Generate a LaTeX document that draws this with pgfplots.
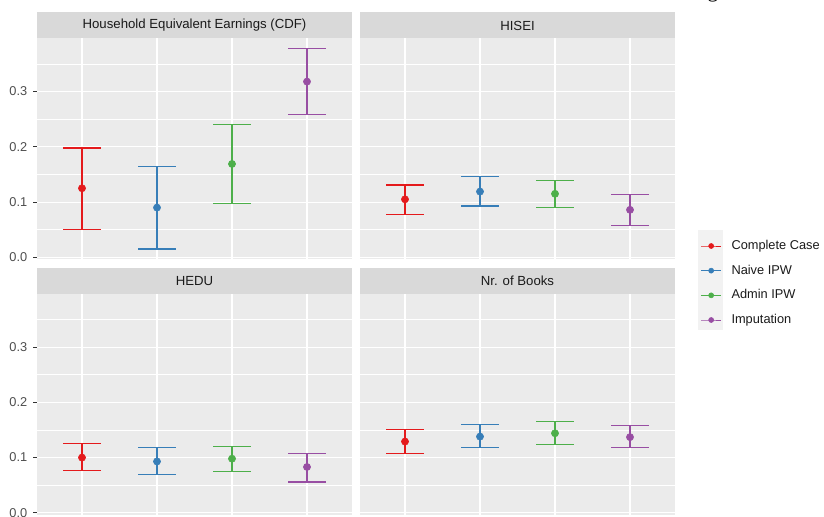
\documentclass[border=0pt]{standalone}
\usepackage{pgfplots}
\pgfplotsset{compat=1.18}
\usepackage{pgfplotstable}
\usepackage{fontspec}
\setmainfont{Liberation Sans}
\newfontfamily\captionserif{Liberation Serif}

% ggplot2 grey theme and Set1 palette
\definecolor{panelbg}{HTML}{EBEBEB}
\definecolor{stripbg}{HTML}{D9D9D9}
\definecolor{keybg}{HTML}{F2F2F2}
\definecolor{striptext}{HTML}{1A1A1A}
\definecolor{labelcol}{HTML}{4D4D4D}
\definecolor{tickcol}{HTML}{333333}
\definecolor{m1}{HTML}{E41A1C}
\definecolor{m2}{HTML}{377EB8}
\definecolor{m3}{HTML}{4DAF4A}
\definecolor{m4}{HTML}{984EA3}

% estimate and 95% interval per method (1 = Complete Case, 2 = Naive IPW,
% 3 = Admin IPW, 4 = Imputation)
\pgfplotstableread{
x y lo hi
1 0.125 0.051 0.198
2 0.090 0.015 0.164
3 0.169 0.098 0.240
4 0.318 0.258 0.378
}\tabEarnings
\pgfplotstableread{
x y lo hi
1 0.105 0.078 0.131
2 0.119 0.093 0.146
3 0.115 0.090 0.139
4 0.086 0.058 0.113
}\tabHISEI
\pgfplotstableread{
x y lo hi
1 0.100 0.077 0.126
2 0.093 0.069 0.118
3 0.098 0.075 0.120
4 0.083 0.056 0.108
}\tabHEDU
\pgfplotstableread{
x y lo hi
1 0.129 0.108 0.151
2 0.138 0.118 0.160
3 0.144 0.124 0.166
4 0.137 0.118 0.158
}\tabBooks

\newcommand{\facetfont}{\fontsize{9.6}{11}\selectfont}
\newcommand{\stripfont}{\fontsize{9.9}{11}\selectfont}

\pgfplotsset{
  facet/.style={
    width=236.25pt, height=165.375pt, scale only axis,
    xmin=0.4, xmax=4.6, ymin=-0.003, ymax=0.396,
    axis background/.style={fill=panelbg},
    axis line style={draw=none},
    xtick={1,2,3,4}, xticklabels={},
    ytick={0,0.1,0.2,0.3}, minor ytick={0.05,0.15,0.25,0.35},
    grid=both,
    major grid style={white, line width=0.8pt},
    minor grid style={white, line width=0.4pt},
    tick align=outside, tick pos=left,
    major tick length=2.75pt, minor tick length=0pt,
    xtick style={draw=none},
    ytick style={draw=tickcol, line width=0.8pt},
    tick label style={font=\facetfont, text=labelcol},
    yticklabel style={xshift=-1pt},
    /pgf/number format/fixed,
    /pgf/number format/fixed zerofill,
    /pgf/number format/precision=1,
    /pgf/number format/assume math mode=true,
  },
  inner facet/.style={facet, yticklabels={}, ytick style={draw=none}},
  series/.style={
    color=#1, mark=*, mark size=2.7pt,
    mark options={solid, line width=0.4pt, draw=#1, fill=#1},
    error bars/y dir=both, error bars/y explicit,
    error bars/error mark=|,
    error bars/error bar style={line width=0.8pt, color=#1},
    error bars/error mark options={mark size=14.06pt, line width=0.9pt, color=#1, solid},
  },
}

% one point with its interval for each of the four methods
\newcommand{\facetseries}[1]{%
  \pgfplotsinvokeforeach{1,2,3,4}{%
    \addplot[x filter/.expression={x==##1 ? x : nan}, series=m##1]
      table[x=x, y=y,
            y error plus expr=\thisrow{hi}-\thisrow{y},
            y error minus expr=\thisrow{y}-\thisrow{lo}] {#1};
  }%
}

\newcommand{\strip}[2]{%
  \fill[stripbg] (#1.north west) rectangle ([yshift=19.5pt]#1.north east);
  \node[font=\stripfont, text=striptext, inner sep=0pt] at ([yshift=9.75pt]#1.north) {#2};
}

\begin{document}
\begin{tikzpicture}
  \begin{axis}[facet, name=TL, at={(27.75pt,-194.25pt)}, anchor=south west]
    \facetseries{\tabEarnings}
  \end{axis}
  \begin{axis}[inner facet, name=TR, at={(270pt,-194.25pt)}, anchor=south west]
    \facetseries{\tabHISEI}
  \end{axis}
  \begin{axis}[facet, name=BL, at={(27.75pt,-385.875pt)}, anchor=south west]
    \facetseries{\tabHEDU}
  \end{axis}
  % legend key background sits behind the legend of the last panel
  \fill[keybg] (523.5pt,-172.5pt) rectangle (542.25pt,-247.5pt);
  \begin{axis}[inner facet, name=BR, at={(270pt,-385.875pt)}, anchor=south west,
      legend entries={Complete Case, Naive IPW, Admin IPW, Imputation},
      legend cell align=left,
      legend image code/.code={%
        \draw[#1, mark repeat=2, mark phase=2, mark size=1.9pt, line width=0.7pt]
          plot coordinates {(0pt,0pt) (7.5pt,0pt) (15pt,0pt)};},
      legend style={at={(1.0816,1.2449)}, anchor=north west,
        draw=none, fill=none, inner sep=0pt, outer sep=0pt,
        column sep=7.4pt, row sep=9.5pt, font=\facetfont,
        nodes={inner sep=0pt, text height=7pt, text depth=2pt, text=striptext}},
    ]
    \facetseries{\tabBooks}
  \end{axis}

  \strip{TL}{Household Equivalent Earnings (CDF)}
  \strip{TR}{HISEI}
  \strip{BL}{HEDU}
  \strip{BR}{Nr. of Books}

  % descender of the caption line above the figure
  \node[anchor=base, inner sep=0pt, font=\captionserif\fontsize{16}{16}\selectfont]
    at (534.75pt,1.6pt) {g};

  \pgfresetboundingbox
  \useasboundingbox (0,0) rectangle (618pt,-387.75pt);
\end{tikzpicture}
\end{document}
